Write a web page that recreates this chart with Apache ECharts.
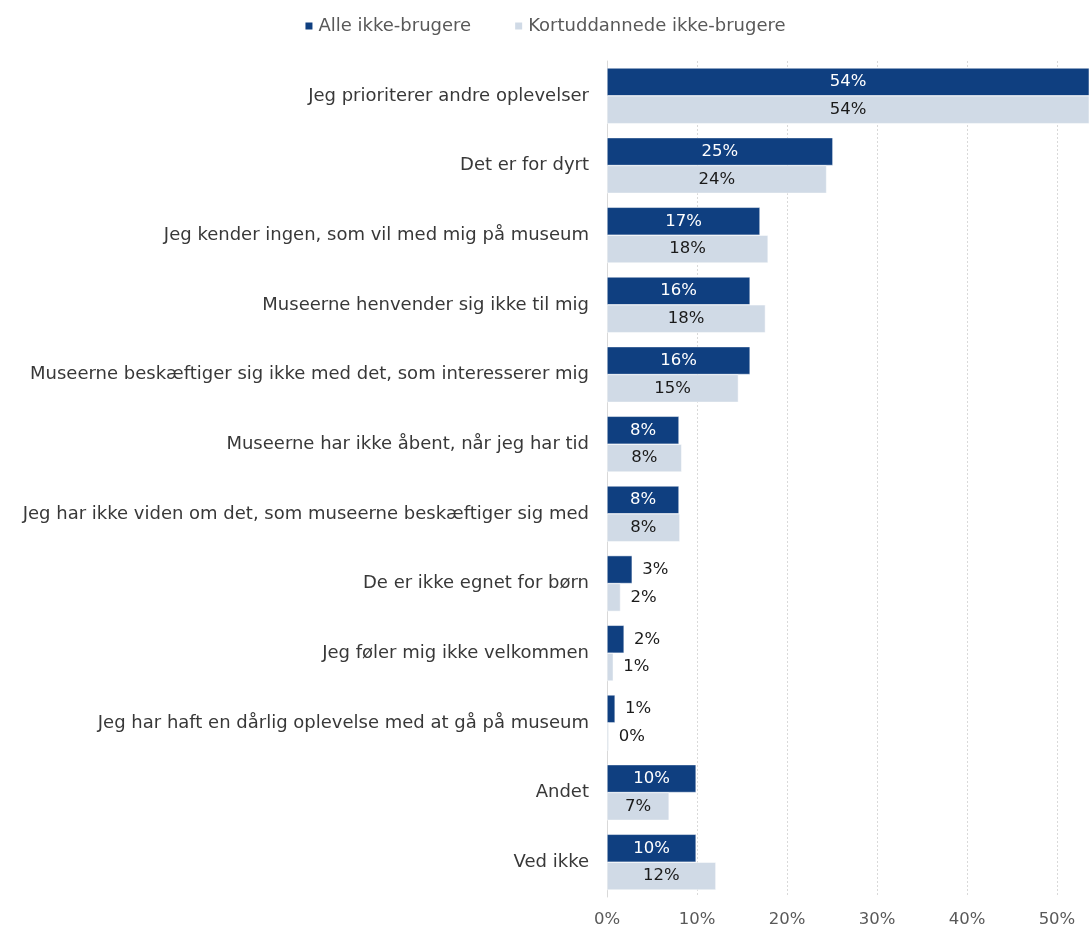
<!DOCTYPE html>
<html>
<head>
<meta charset="utf-8">
<script src="https://cdn.jsdelivr.net/npm/echarts@6/dist/echarts.min.js"></script>
<style>
  html, body { margin: 0; padding: 0; background: #ffffff; }
  #chart { width: 1089px; height: 928px; }
</style>
</head>
<body>
<div id="chart"></div>
<script>
// Reasons for not visiting museums, top to bottom
const categories = [
  'Jeg prioriterer andre oplevelser',
  'Det er for dyrt',
  'Jeg kender ingen, som vil med mig på museum',
  'Museerne henvender sig ikke til mig',
  'Museerne beskæftiger sig ikke med det, som interesserer mig',
  'Museerne har ikke åbent, når jeg har tid',
  'Jeg har ikke viden om det, som museerne beskæftiger sig med',
  'De er ikke egnet for børn',
  'Jeg føler mig ikke velkommen',
  'Jeg har haft en dårlig oplevelse med at gå på museum',
  'Andet',
  'Ved ikke'
];
const seriesNames = ['Alle ikke-brugere', 'Kortuddannede ikke-brugere'];
const alleValues = [54, 25.1, 17, 15.9, 15.9, 8, 8, 2.8, 1.9, 0.9, 9.9, 9.9];
const kortValues = [54, 24.4, 17.9, 17.6, 14.6, 8.3, 8.1, 1.5, 0.7, 0.2, 6.9, 12.1];
const tickValues = [0, 10, 20, 30, 40, 50];

const FONT = 'DejaVu Sans';
const DARK = '#0f3f80';
const LIGHT = '#d0dae6';

function barData(values, insideColor) {
  return values.map(v => ({
    value: v,
    label: v >= 5
      ? { position: 'inside', color: insideColor }
      : { position: 'right', color: '#1a1a1a', distance: 10 }
  }));
}

const chart = echarts.init(document.getElementById('chart'), null, { renderer: 'canvas' });
chart.setOption({
  animation: false,
  textStyle: { fontFamily: FONT },
  legend: {
    top: 12,
    left: 'center',
    itemWidth: 9,
    itemHeight: 9,
    itemGap: 42,
    icon: 'rect',
    textStyle: { fontFamily: FONT, fontSize: 18, color: '#595959' },
    data: seriesNames
  },
  grid: { left: 607, right: 0, top: 61, bottom: 31, containLabel: false },
  xAxis: {
    type: 'value',
    min: 0,
    max: 53.56,
    interval: 10,
    axisLine: { show: false },
    axisTick: { show: false },
    axisLabel: {
      fontFamily: FONT, fontSize: 16.5, color: '#595959', margin: 14,
      showMaxLabel: false,
      formatter: v => (tickValues.includes(v) ? v + '%' : '')
    },
    splitLine: { show: true, lineStyle: { color: '#d9d9d9', type: [2, 2], width: 1 } }
  },
  yAxis: {
    type: 'category',
    inverse: true,
    data: categories,
    axisLine: { show: true, lineStyle: { color: '#d9d9d9', width: 1 } },
    axisTick: { show: false },
    axisLabel: { fontFamily: FONT, fontSize: 18, color: '#383838', margin: 18, padding: [4, 0, 0, 0] }
  },
  series: [
    {
      name: seriesNames[0],
      type: 'bar',
      clip: true,
      barGap: '0%',
      barCategoryGap: '20%',
      itemStyle: { color: DARK, borderColor: '#ffffff', borderWidth: 0.5 },
      label: { show: true, fontFamily: FONT, fontSize: 16.5, formatter: p => Math.round(p.value) + '%' },
      data: barData(alleValues, '#ffffff')
    },
    {
      name: seriesNames[1],
      type: 'bar',
      clip: true,
      barGap: '0%',
      barCategoryGap: '20%',
      itemStyle: { color: LIGHT, borderColor: '#ffffff', borderWidth: 0.5 },
      label: { show: true, fontFamily: FONT, fontSize: 16.5, formatter: p => Math.round(p.value) + '%' },
      data: barData(kortValues, '#1a1a1a')
    }
  ]
});
</script>
</body>
</html>
